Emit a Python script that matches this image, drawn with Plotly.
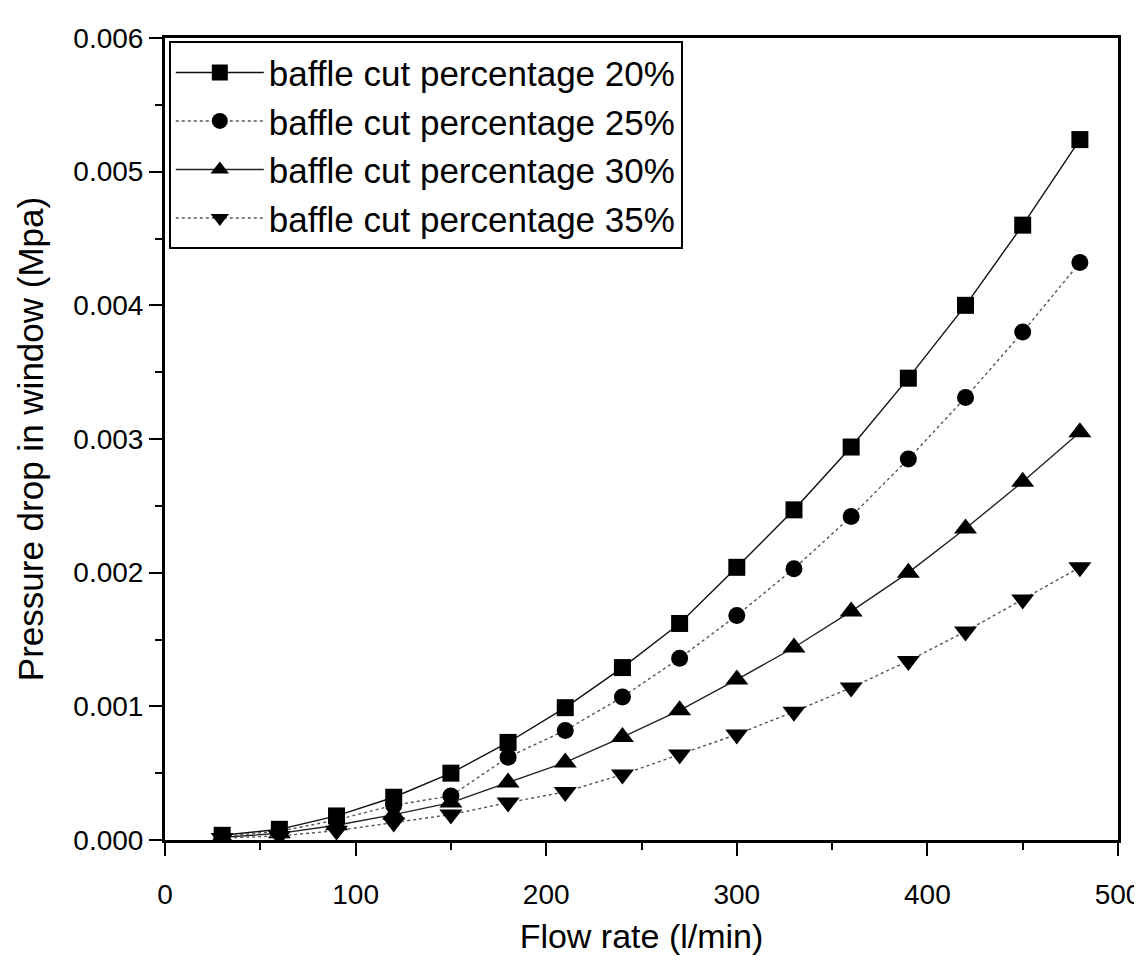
import plotly.graph_objects as go

flow_rate = [30, 60, 90, 120, 150, 180, 210, 240, 270, 300, 330, 360, 390, 420, 450, 480]
cut_20 = [0.000035, 0.00008, 0.00018, 0.00032, 0.00050, 0.00073, 0.00099, 0.00129, 0.00162,
          0.00204, 0.00247, 0.00294, 0.003455, 0.00400, 0.00460, 0.00524]
cut_25 = [0.00003, 0.000065, 0.00015, 0.00026, 0.00033, 0.00062, 0.00082, 0.00107, 0.00136,
          0.00168, 0.00203, 0.00242, 0.00285, 0.00331, 0.00380, 0.00432]
cut_30 = [0.00002, 0.00005, 0.00011, 0.00019, 0.00028, 0.00043, 0.00058, 0.00077, 0.00097,
          0.00120, 0.00144, 0.00171, 0.00200, 0.00233, 0.00268, 0.00305]
cut_35 = [0.000015, 0.00003, 0.00007, 0.00013, 0.00019, 0.00028, 0.00036, 0.00049, 0.00064,
          0.00079, 0.00096, 0.00114, 0.00134, 0.00156, 0.00180, 0.00204]

series_names = ["baffle cut percentage 20%", "baffle cut percentage 25%",
                "baffle cut percentage 30%", "baffle cut percentage 35%"]
series_values = [cut_20, cut_25, cut_30, cut_35]
symbols = ["square", "circle", "triangle-up", "triangle-down"]
marker_sizes = [17, 17, 20, 20]
dashes = ["solid", "dot", "solid", "dot"]
line_colors = ["#111111", "#555555", "#222222", "#555555"]

fig = go.Figure()
for name, vals, sym, ms, dash, lc in zip(series_names, series_values, symbols, marker_sizes, dashes, line_colors):
    fig.add_trace(go.Scatter(
        x=flow_rate, y=vals, name=name, mode="lines+markers",
        line=dict(color=lc, width=1.4, dash=dash),
        marker=dict(symbol=sym, size=ms, color="black", line=dict(width=0)),
    ))

font_family = "Arial, Liberation Sans, sans-serif"
fig.update_layout(
    width=1134, height=956,
    margin=dict(l=157, r=24, t=30, b=124),
    paper_bgcolor="white", plot_bgcolor="white",
    font=dict(family=font_family, color="black", size=28),
    showlegend=True,
    legend=dict(
        x=0.004, y=0.996, xanchor="left", yanchor="top",
        bordercolor="black", borderwidth=2, bgcolor="white",
        font=dict(size=35, family=font_family, color="black"),
        itemwidth=88, tracegroupgap=0,
    ),
    xaxis=dict(
        range=[0, 500], tickvals=[0, 100, 200, 300, 400, 500],
        ticks="outside", ticklen=13, tickwidth=2, tickcolor="black",
        ticklabelstandoff=14,
        showline=True, linecolor="black", linewidth=3, mirror=True,
        showgrid=False, zeroline=False, automargin=False,
        minor=dict(tickvals=[50, 150, 250, 350, 450], ticks="outside", ticklen=7, tickwidth=2, tickcolor="black"),
        tickfont=dict(size=28),
        title=dict(text="Flow rate (l/min)", font=dict(size=34), standoff=16),
    ),
    yaxis=dict(
        range=[0, 0.006], tickvals=[0, 0.001, 0.002, 0.003, 0.004, 0.005, 0.006],
        tickformat=".3f",
        ticks="outside", ticklen=13, tickwidth=2, tickcolor="black",
        ticklabelstandoff=0,
        showline=True, linecolor="black", linewidth=3, mirror=True,
        showgrid=False, zeroline=False, automargin=False,
        minor=dict(tickvals=[0.0005, 0.0015, 0.0025, 0.0035, 0.0045, 0.0055], ticks="outside", ticklen=7, tickwidth=2, tickcolor="black"),
        tickfont=dict(size=28),
        title=dict(text="Pressure drop in window (Mpa)", font=dict(size=35), standoff=20),
    ),
)

fig.write_html("out.html")
